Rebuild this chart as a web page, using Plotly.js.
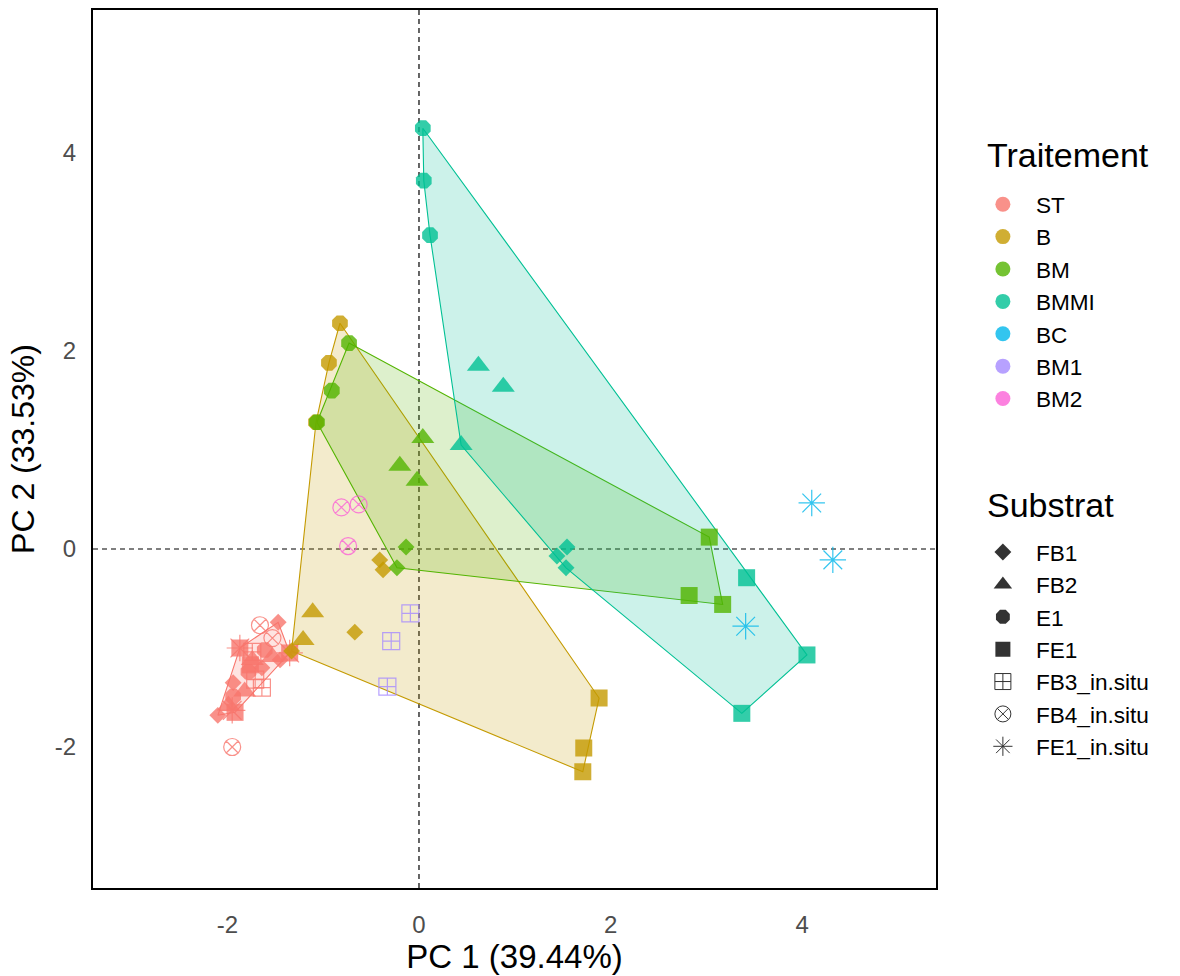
<!DOCTYPE html>
<html><head><meta charset="utf-8">
<script src="https://cdn.plot.ly/plotly-3.0.1.min.js"></script>
<style>body{margin:0;background:#fff}#plot{width:1180px;height:976px}</style>
</head><body><div id="plot"></div>
<script>
// ---- data ----
const treatments = ['ST','B','BM','BMMI','BC','BM1','BM2'];
const treatColors = ['#F8766D','#C49A00','#53B400','#00C094','#00B6EB','#A58AFF','#FB61D7'];
const substrates = ['FB1','FB2','E1','FE1','FB3_in.situ','FB4_in.situ','FE1_in.situ'];

const ST_x   = [-1.47,-1.64,-1.94,-2.10,-1.45, -1.74,-1.53,-1.82,-1.99, -1.94,-1.78,-1.61, -1.87,-1.35,-1.76,-1.92, -1.74,-1.71,-1.64, -1.66,-1.53,-1.95, -1.87,-1.35,-1.95];
const ST_y   = [-0.74,-1.20,-1.35,-1.68,-1.12, -1.12,-1.09,-1.44,-1.58, -1.49,-1.24,-1.02, -1.00,-1.05,-1.17,-1.65, -1.04,-1.32,-1.40, -0.77,-0.90,-2.00, -1.00,-1.05,-1.63];
const ST_sub = ['FB1','FB1','FB1','FB1','FB1','FB2','FB2','FB2','FB2','E1','E1','E1','FE1','FE1','FE1','FE1','FB3_in.situ','FB3_in.situ','FB3_in.situ','FB4_in.situ','FB4_in.situ','FB4_in.situ','FE1_in.situ','FE1_in.situ','FE1_in.situ'];

const B_x   = [-0.41,-0.375,-0.67,-1.33, -1.11,-1.21, -0.825,-0.94,-1.075, 1.88,1.72,1.71];
const B_y   = [-0.11,-0.21,-0.84,-1.03, -0.64,-0.92, 2.28,1.88,1.28, -1.505,-2.01,-2.25];
const B_sub = ['FB1','FB1','FB1','FB1','FB2','FB2','E1','E1','E1','FE1','FE1','FE1'];

const BM_x   = [-0.135,-0.23, 0.04,-0.20,-0.02, -0.73,-0.91,-1.065, 3.03,2.82,3.17];
const BM_y   = [0.02,-0.19, 1.12,0.84,0.69, 2.08,1.60,1.28, 0.12,-0.47,-0.56];
const BM_sub = ['FB1','FB1','FB2','FB2','FB2','E1','E1','E1','FE1','FE1','FE1'];

const BMMI_x   = [1.545,1.44,1.535, 0.62,0.88,0.44, 0.04,0.05,0.115, 3.42,4.05,3.37];
const BMMI_y   = [0.02,-0.07,-0.19, 1.85,1.64,1.05, 4.25,3.72,3.17, -0.29,-1.07,-1.66];
const BMMI_sub = ['FB1','FB1','FB1','FB2','FB2','FB2','E1','E1','E1','FE1','FE1','FE1'];

const BC_x   = [4.10,4.32,3.41];
const BC_y   = [0.465,-0.11,-0.78];
const BC_sub = ['FE1_in.situ','FE1_in.situ','FE1_in.situ'];

const BM1_x   = [-0.09,-0.29,-0.33];
const BM1_y   = [-0.65,-0.93,-1.39];
const BM1_sub = ['FB3_in.situ','FB3_in.situ','FB3_in.situ'];

const BM2_x   = [-0.81,-0.63,-0.74];
const BM2_y   = [0.42,0.45,0.03];
const BM2_sub = ['FB4_in.situ','FB4_in.situ','FB4_in.situ'];

const xTicks = [-2,0,2,4];
const yTicks = [-2,0,2,4];

// ---- styling ----
const symbolOf = {'FB1':'diamond','FB2':'triangle-up','E1':'octagon','FE1':'square',
  'FB3_in.situ':'square-cross-open','FB4_in.situ':'circle-x-open','FE1_in.situ':'asterisk-open'};
const sizeOf = {'FB1':13,'FB2':20,'E1':17,'FE1':17,'FB3_in.situ':17,'FB4_in.situ':17,'FE1_in.situ':22};
const hullGroups = ['ST','B','BM','BMMI'];

const groups = {
  ST:[ST_x,ST_y,ST_sub], B:[B_x,B_y,B_sub], BM:[BM_x,BM_y,BM_sub], BMMI:[BMMI_x,BMMI_y,BMMI_sub],
  BC:[BC_x,BC_y,BC_sub], BM1:[BM1_x,BM1_y,BM1_sub], BM2:[BM2_x,BM2_y,BM2_sub]
};

function hexToRgba(h,a){const r=parseInt(h.slice(1,3),16),g=parseInt(h.slice(3,5),16),b=parseInt(h.slice(5,7),16);return `rgba(${r},${g},${b},${a})`;}

function convexHull(pts){
  pts = pts.slice().sort((a,b)=>a[0]-b[0]||a[1]-b[1]);
  const cross=(o,a,b)=>(a[0]-o[0])*(b[1]-o[1])-(a[1]-o[1])*(b[0]-o[0]);
  const lower=[];for(const p of pts){while(lower.length>=2&&cross(lower[lower.length-2],lower[lower.length-1],p)<=0)lower.pop();lower.push(p);}
  const upper=[];for(let i=pts.length-1;i>=0;i--){const p=pts[i];while(upper.length>=2&&cross(upper[upper.length-2],upper[upper.length-1],p)<=0)upper.pop();upper.push(p);}
  upper.pop();lower.pop();return lower.concat(upper);
}

const traces = [];
// hulls (non in-situ samples)
hullGroups.forEach(t=>{
  const [xs,ys,ss]=groups[t]; const col=treatColors[treatments.indexOf(t)];
  const pts=[]; xs.forEach((x,i)=>{ if(!ss[i].includes('in.situ')) pts.push([x,ys[i]]); });
  const h=convexHull(pts); h.push(h[0]);
  traces.push({type:'scatter',mode:'lines',x:h.map(p=>p[0]),y:h.map(p=>p[1]),fill:'toself',
    fillcolor:hexToRgba(col,0.2),line:{color:col,width:1.1},showlegend:false,hoverinfo:'skip'});
});
// points
treatments.forEach((t,ti)=>{
  const [xs,ys,ss]=groups[t]; const col=treatColors[ti];
  substrates.forEach(s=>{
    const idx=ss.map((v,i)=>v===s?i:-1).filter(i=>i>=0);
    if(!idx.length) return;
    const open=s.includes('in.situ');
    traces.push({type:'scatter',mode:'markers',x:idx.map(i=>xs[i]),y:idx.map(i=>ys[i]),
      marker:{symbol:symbolOf[s],size:sizeOf[s],color:col,opacity:0.8,line:{color:col,width:open?1.2:0}},
      showlegend:false,name:t+' '+s});
  });
});
// legend: Traitement
treatments.forEach((t,ti)=>{
  traces.push({type:'scatter',mode:'markers',x:[null],y:[null],name:t,legend:'legend',
    marker:{symbol:'circle',size:15,color:treatColors[ti],opacity:0.8},showlegend:true});
});
// legend: Substrat
substrates.forEach(s=>{
  const open=s.includes('in.situ');
  const ls={'FB1':13,'FB2':16,'E1':15,'FE1':15,'FB3_in.situ':16,'FB4_in.situ':16,'FE1_in.situ':16}[s];
  traces.push({type:'scatter',mode:'markers',x:[null],y:[null],name:s,legend:'legend2',
    marker:{symbol:symbolOf[s],size:ls,color:'#333333',line:{color:'#333333',width:open?1:0}},showlegend:true});
});

const font='"Liberation Sans", Arial, sans-serif';
const layout = {
  width:1180,height:976,
  margin:{l:93,r:244,t:10,b:88},
  paper_bgcolor:'#ffffff',plot_bgcolor:'#ffffff',
  font:{family:font,color:'#000'},
  xaxis:{range:[-3.403,5.397],tickvals:xTicks,ticktext:xTicks.map(String),showgrid:false,zeroline:false,
    showline:true,mirror:true,linecolor:'#000',linewidth:2,ticks:'',ticklabelstandoff:14,
    tickfont:{size:24,color:'#4D4D4D',family:font},
    title:{text:'PC 1 (39.44%)',font:{size:33,color:'#000',family:font},standoff:5}},
  yaxis:{range:[-3.424,5.444],tickvals:yTicks,ticktext:yTicks.map(String),showgrid:false,zeroline:false,
    showline:true,mirror:true,linecolor:'#000',linewidth:2,ticks:'',ticklabelstandoff:10,
    tickfont:{size:24,color:'#4D4D4D',family:font},
    title:{text:'PC 2 (33.53%)',font:{size:32,color:'#000',family:font},standoff:11}},
  shapes:[
    {type:'line',xref:'x',yref:'paper',x0:0,x1:0,y0:0,y1:1,line:{color:'#000',width:1.2,dash:'5px,4px'},layer:'below'},
    {type:'line',xref:'paper',yref:'y',x0:0,x1:1,y0:0,y1:0,line:{color:'#000',width:1.2,dash:'5px,4px'},layer:'below'}
  ],
  annotations:[
    {text:'Traitement',xref:'paper',yref:'paper',x:1.0581,y:0.8349,xanchor:'left',yanchor:'middle',showarrow:false,
      font:{size:34,family:font,color:'#000'}},
    {text:'Substrat',xref:'paper',yref:'paper',x:1.0581,y:0.4362,xanchor:'left',yanchor:'middle',showarrow:false,
      font:{size:34,family:font,color:'#000'}}
  ],
  legend:{x:1.0402,xanchor:'left',y:0.8029,yanchor:'top',bgcolor:'rgba(0,0,0,0)',
    font:{size:22.6,family:font,color:'#000'},itemsizing:'trace',itemwidth:56},
  legend2:{x:1.0402,xanchor:'left',y:0.4068,yanchor:'top',bgcolor:'rgba(0,0,0,0)',
    font:{size:22.6,family:font,color:'#000'},itemsizing:'trace',itemwidth:56},
  showlegend:true
};
Plotly.newPlot('plot',traces,layout,{displayModeBar:false,staticPlot:true});
</script></body></html>
